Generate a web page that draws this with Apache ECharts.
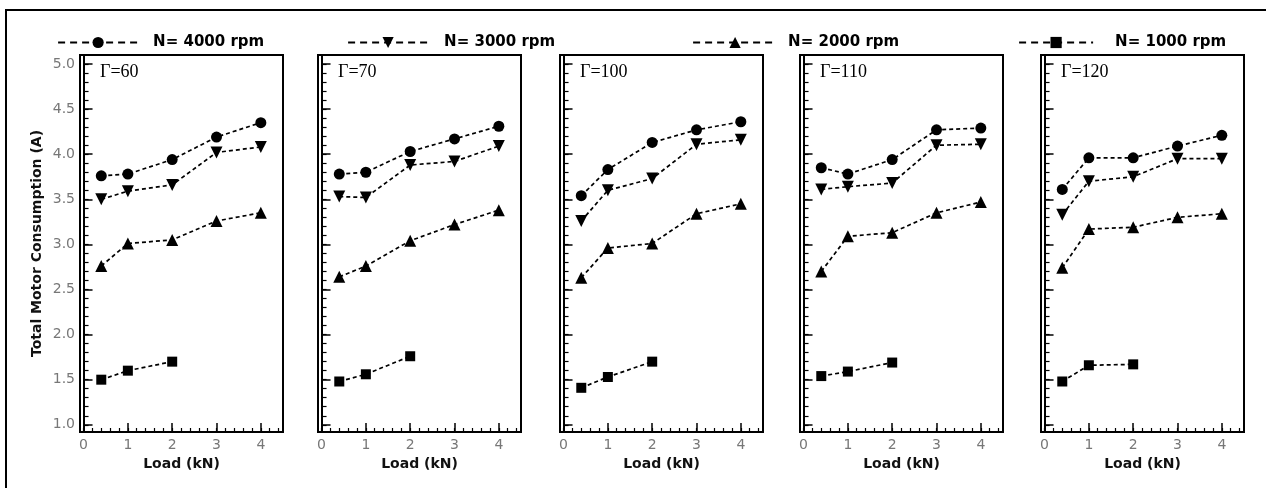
<!DOCTYPE html>
<html>
<head>
<meta charset="utf-8">
<script src="https://cdn.jsdelivr.net/npm/echarts@6/dist/echarts.min.js"></script>
<style>
  html, body { margin: 0; padding: 0; background: #fff; }
  #chart { width: 1266px; height: 488px; }
</style>
</head>
<body>
<div id="chart"></div>
<script>
// Applied load on the x axis (kN)
const loads = [0.4, 1, 2, 3, 4];
// One panel per Γ value
const panelLabels = ['Γ=60', 'Γ=70', 'Γ=100', 'Γ=110', 'Γ=120'];
const speedNames = ['N= 4000 rpm', 'N= 3000 rpm', 'N= 2000 rpm', 'N= 1000 rpm'];

// Total motor current (A); one row per panel, values at the loads above
const n4000 = [
  [3.76, 3.78, 3.94, 4.19, 4.35],
  [3.78, 3.80, 4.03, 4.17, 4.31],
  [3.54, 3.83, 4.13, 4.27, 4.36],
  [3.85, 3.78, 3.94, 4.27, 4.29],
  [3.61, 3.96, 3.96, 4.09, 4.21]
];
const n3000 = [
  [3.50, 3.59, 3.66, 4.02, 4.08],
  [3.53, 3.52, 3.88, 3.92, 4.09],
  [3.26, 3.60, 3.73, 4.11, 4.16],
  [3.61, 3.64, 3.68, 4.10, 4.11],
  [3.33, 3.70, 3.75, 3.95, 3.95]
];
const n2000 = [
  [2.76, 3.01, 3.05, 3.26, 3.35],
  [2.64, 2.76, 3.04, 3.22, 3.38],
  [2.63, 2.96, 3.01, 3.34, 3.45],
  [2.70, 3.09, 3.13, 3.35, 3.47],
  [2.74, 3.17, 3.19, 3.30, 3.34]
];
// 1000 rpm was only run up to 2 kN
const n1000 = [
  [1.50, 1.60, 1.70],
  [1.48, 1.56, 1.76],
  [1.41, 1.53, 1.70],
  [1.54, 1.59, 1.69],
  [1.48, 1.66, 1.67]
];

// Axis ticks
const yMajor = [1.0, 1.5, 2.0, 2.5, 3.0, 3.5, 4.0, 4.5, 5.0];
const xMajor = [0, 1, 2, 3, 4];
const yMinor = [];
for (let v = 10; v <= 50; v++) yMinor.push(v / 10);
const xMinor = [];
for (let v = 0; v <= 22; v++) xMinor.push(v / 5);

// Panel layout
const boxLeft = [80, 318, 560, 800, 1041];
const boxWidth = 203;
const boxTop = 55;
const boxHeight = 377;
const xRange = [-0.08, 4.5];
const yRange = [0.92, 5.1];

const styleBySpeed = [
  { data: n4000, symbol: 'circle', size: 11, rotate: 0 },
  { data: n3000, symbol: 'triangle', size: 12, rotate: 180 },
  { data: n2000, symbol: 'triangle', size: 12, rotate: 0 },
  { data: n1000, symbol: 'rect', size: 10, rotate: 0 }
];

const tickFont = 'DejaVu Sans';
const grids = [], xAxes = [], yAxes = [], series = [], graphics = [];

// outer frame
graphics.push({
  type: 'rect', silent: true, z: 100,
  shape: { x: 6, y: 10, width: 1400, height: 700 },
  style: { fill: null, stroke: '#000', lineWidth: 2 }
});

panelLabels.forEach((label, i) => {
  grids.push({
    left: boxLeft[i], top: boxTop, width: boxWidth, height: boxHeight,
    show: true, borderColor: '#000', borderWidth: 2, backgroundColor: 'transparent',
    containLabel: false, outerBoundsMode: 'none'
  });
  // major x axis with labels
  xAxes.push({
    type: 'value', gridIndex: i, position: 'bottom', min: xRange[0], max: xRange[1],
    axisLine: { show: true, lineStyle: { color: '#000', width: 2 } },
    axisTick: { show: true, inside: true, length: 9, customValues: xMajor, lineStyle: { color: '#000', width: 1.5 } },
    axisLabel: { show: true, customValues: xMajor, color: '#777', fontFamily: tickFont, fontSize: 14, margin: 6 },
    splitLine: { show: false },
    name: 'Load (kN)', nameLocation: 'middle', nameGap: 22,
    nameTextStyle: { color: '#111', fontFamily: tickFont, fontWeight: 'bold', fontSize: 14 }
  });
  // minor x ticks
  xAxes.push({
    type: 'value', gridIndex: i, position: 'bottom', min: xRange[0], max: xRange[1],
    axisLine: { show: false },
    axisTick: { show: true, inside: true, length: 4, customValues: xMinor, lineStyle: { color: '#000', width: 1.2 } },
    axisLabel: { show: false },
    splitLine: { show: false }
  });
  const yMain = {
    type: 'value', gridIndex: i, position: 'left', min: yRange[0], max: yRange[1],
    axisLine: { show: true, lineStyle: { color: '#000', width: 2 } },
    axisTick: { show: true, inside: true, length: 9, customValues: yMajor, lineStyle: { color: '#000', width: 1.5 } },
    axisLabel: {
      show: i === 0, customValues: yMajor, color: '#777', fontFamily: tickFont, fontSize: 14, margin: 5,
      formatter: v => v.toFixed(1)
    },
    splitLine: { show: false }
  };
  if (i === 0) {
    yMain.name = 'Total Motor Consumption (A)';
    yMain.nameLocation = 'middle';
    yMain.nameGap = 36;
    yMain.nameTextStyle = { color: '#111', fontFamily: tickFont, fontWeight: 'bold', fontSize: 14 };
  }
  yAxes.push(yMain);
  yAxes.push({
    type: 'value', gridIndex: i, position: 'left', min: yRange[0], max: yRange[1],
    axisLine: { show: false },
    axisTick: { show: true, inside: true, length: 5, customValues: yMinor, lineStyle: { color: '#000', width: 1.2 } },
    axisLabel: { show: false },
    splitLine: { show: false }
  });

  styleBySpeed.forEach((s, k) => {
    series.push({
      type: 'line', name: speedNames[k],
      xAxisIndex: 2 * i, yAxisIndex: 2 * i,
      data: s.data[i].map((v, j) => [loads[j], v]),
      symbol: s.symbol, symbolSize: s.size, symbolRotate: s.rotate,
      itemStyle: { color: '#000' },
      lineStyle: { color: '#000', width: 1.7, type: [4, 3] },
      emphasis: { disabled: true },
      animation: false
    });
  });

  graphics.push({
    type: 'text', silent: true,
    x: boxLeft[i] + 20, y: 72,
    style: { text: label, fill: '#000', font: '18px "Liberation Serif", "Times New Roman", serif', verticalAlign: 'middle' }
  });
});

// One legend box per speed, spread along the top
const legendLeft = [57, 347, 692, 1018];
const legendIconWidth = [80, 80, 84, 74];
const legendTextPad = [10, 11, 6, 17];
const legends = speedNames.map((name, k) => ({
  data: [name], left: legendLeft[k], top: 35, padding: 0,
  itemWidth: legendIconWidth[k], itemHeight: 14, selectedMode: false,
  lineStyle: { type: [7, 5], width: 2.2 },
  textStyle: {
    color: '#000', fontFamily: tickFont, fontWeight: 'bold', fontSize: 15,
    padding: [0, 0, 0, legendTextPad[k]]
  }
}));

const chart = echarts.init(document.getElementById('chart'), null, { renderer: 'canvas' });
chart.setOption({
  animation: false,
  backgroundColor: '#fff',
  legend: legends,
  grid: grids,
  xAxis: xAxes,
  yAxis: yAxes,
  series: series,
  graphic: graphics
});
</script>
</body>
</html>
